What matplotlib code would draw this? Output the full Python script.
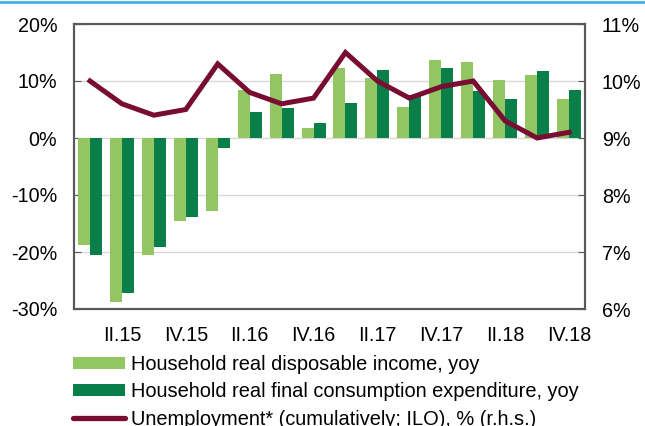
import matplotlib
matplotlib.use("Agg")
import matplotlib.pyplot as plt
import numpy as np
from matplotlib.patches import Patch
from matplotlib.lines import Line2D

plt.rcParams['font.family'] = ['Liberation Sans', 'DejaVu Sans']

quarters = ["I.15", "II.15", "III.15", "IV.15", "I.16", "II.16", "III.16", "IV.16",
            "I.17", "II.17", "III.17", "IV.17", "I.18", "II.18", "III.18", "IV.18"]
disposable_income = [-18.8, -28.7, -20.5, -14.5, -12.8, 8.5, 11.2, 1.7,
                     12.3, 10.6, 5.5, 13.6, 13.3, 10.1, 11.1, 6.8]
consumption = [-20.5, -27.2, -19.2, -13.8, -1.8, 4.5, 5.2, 2.6,
               6.1, 12.0, 7.5, 12.2, 8.2, 6.9, 11.7, 8.5]
unemployment = [10.0, 9.6, 9.4, 9.5, 10.3, 9.8, 9.6, 9.7,
                10.5, 10.0, 9.7, 9.9, 10.0, 9.3, 9.0, 9.1]

left_ticks = [-30, -20, -10, 0, 10, 20]
right_ticks = [6, 7, 8, 9, 10, 11]

c_light = "#92C662"
c_dark = "#087E48"
c_line = "#780C32"
c_frame = "#595959"
fs_tick = 14.2
fs_leg = 14.4

fig = plt.figure(figsize=(6.45, 4.26), dpi=100)
ax = fig.add_axes([74/645, 1 - 309/426, (585 - 74)/645, (309 - 24)/426])

x = np.arange(len(quarters))
w = 0.375
ax.bar(x - w/2, disposable_income, width=w, color=c_light, zorder=2)
ax.bar(x + w/2, consumption, width=w, color=c_dark, zorder=2)
ax.set_xlim(-0.5, len(quarters) - 0.5)
ax.set_ylim(-30, 20)
ax.set_yticks(left_ticks)
ax.set_yticklabels([f"{t}%" for t in left_ticks], fontsize=fs_tick)
ax.yaxis.grid(True, color="#d9d9d9", lw=1, zorder=0)
ax.set_axisbelow(True)
ax.set_xticks(x[1::2])
ax.set_xticklabels(quarters[1::2], fontsize=fs_tick)
ax.tick_params(axis="x", length=0, pad=12)
ax.tick_params(axis="y", direction="in", length=5, color=c_frame, pad=12)
for s in ax.spines.values():
    s.set_color(c_frame)
    s.set_linewidth(1.5)

ax2 = ax.twinx()
ax2.plot(x, unemployment, color=c_line, lw=3.6, solid_joinstyle="miter", zorder=3)
ax2.set_ylim(6, 11)
ax2.set_yticks(right_ticks)
ax2.set_yticklabels([f"{t}%" for t in right_ticks], fontsize=fs_tick)
ax2.tick_params(axis="y", direction="in", length=5, color=c_frame, pad=12)
for s in ax2.spines.values():
    s.set_color(c_frame)
    s.set_linewidth(1.5)

# blue rule across the top
fig.add_artist(Line2D([0, 1], [1 - 2/426, 1 - 2/426], transform=fig.transFigure,
                      color="#4BAEE3", lw=2))

handles = [
    Patch(facecolor=c_light, edgecolor="none"),
    Patch(facecolor=c_dark, edgecolor="none"),
    Line2D([0], [0], color=c_line, lw=3.8, solid_capstyle="round"),
]
labels = [
    "Household real disposable income, yoy",
    "Household real final consumption expenditure, yoy",
    "Unemployment* (cumulatively; ILO), % (r.h.s.)",
]
fig.legend(handles, labels, loc="upper left", bbox_to_anchor=(73/645, 1 - 355/426),
           frameon=False, fontsize=fs_leg, handlelength=2.6, handleheight=0.55,
           handletextpad=0.3, labelspacing=0.42, borderpad=0, borderaxespad=0)

fig.savefig("out.png", dpi=100)
